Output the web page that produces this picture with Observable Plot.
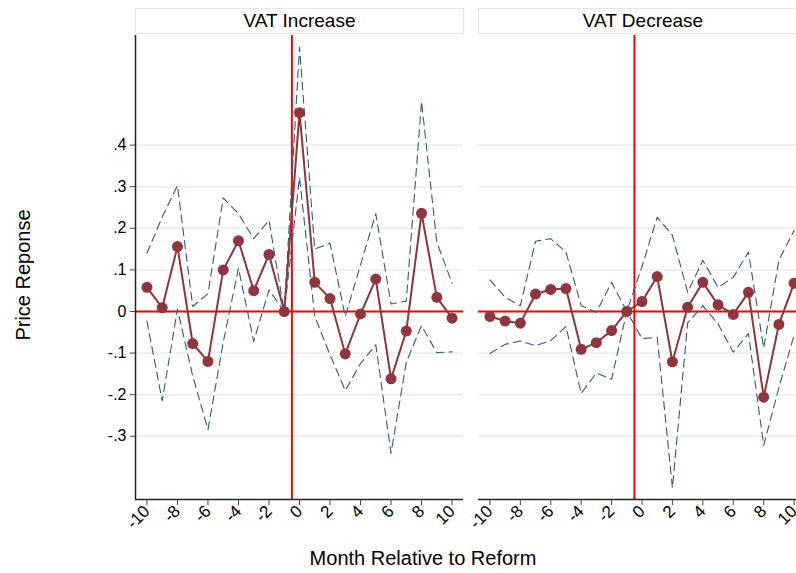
<!DOCTYPE html>
<html>
<head>
<meta charset="utf-8">
<script src="https://cdn.jsdelivr.net/npm/d3@7"></script>
<script src="https://cdn.jsdelivr.net/npm/@observablehq/plot@0.6"></script>
<style>
  html, body { margin: 0; padding: 0; background: #fff; overflow: hidden; width: 796px; height: 573px; }
  body { position: relative; font-family: "Liberation Sans", Arial, Helvetica, sans-serif; }
  .panel { position: absolute; top: 0; }
  .panel svg { max-width: none !important; }
  .strip { position: absolute; top: 8px; height: 26px; box-sizing: border-box; border: 1px solid #dfe9ec; background: #fff;
           font-size: 19px; line-height: 24px; text-align: center; color: #000; }
  .ytitle { position: absolute; left: 23px; top: 275px; transform: translate(-50%, -50%) rotate(-90deg); font-size: 20px; white-space: nowrap; }
  .xtitle { position: absolute; left: 423px; top: 547px; transform: translateX(-50%); font-size: 20px; white-space: nowrap; }
</style>
</head>
<body>
<div id="left" class="panel" style="left:0px; width:470px"></div>
<div id="right" class="panel" style="left:470px; width:340px"></div>
<div class="strip" style="left:135px; width:329px">VAT Increase</div>
<div class="strip" style="left:478px; width:330px">VAT Decrease</div>
<div class="ytitle">Price Reponse</div>
<div class="xtitle">Month Relative to Reform</div>
<script>
// ---- data ----
const months = [-10,-9,-8,-7,-6,-5,-4,-3,-2,-1,0,1,2,3,4,5,6,7,8,9,10];
const panelTitles = ["VAT Increase", "VAT Decrease"];

const incMain  = [0.058,0.009,0.156,-0.077,-0.120,0.100,0.170,0.050,0.137,0,0.478,0.070,0.031,-0.102,-0.006,0.078,-0.162,-0.047,0.236,0.034,-0.016];
const incUpper = [0.140,0.227,0.303,0.012,0.043,0.273,0.235,0.175,0.219,0,0.635,0.150,0.164,-0.012,0.112,0.235,0.018,0.025,0.505,0.167,0.068];
const incLower = [-0.023,-0.215,0.006,-0.155,-0.284,-0.074,0.104,-0.072,0.052,0,0.322,-0.012,-0.104,-0.190,-0.125,-0.080,-0.341,-0.122,-0.034,-0.099,-0.097];

const decMain  = [-0.012,-0.023,-0.028,0.042,0.053,0.055,-0.091,-0.075,-0.046,0,0.024,0.084,-0.121,0.010,0.070,0.016,-0.007,0.046,-0.206,-0.031,0.068];
const decUpper = [0.076,0.034,0.014,0.169,0.175,0.143,0.014,-0.002,0.070,0,0.108,0.227,0.183,0.046,0.123,0.058,0.082,0.143,-0.088,0.123,0.195];
const decLower = [-0.101,-0.079,-0.071,-0.082,-0.070,-0.036,-0.197,-0.148,-0.163,0,-0.065,-0.062,-0.424,-0.028,0.014,-0.030,-0.098,-0.053,-0.322,-0.183,-0.057];

const xTicks = [-10,-8,-6,-4,-2,0,2,4,6,8,10];
const yTicks = [-0.3,-0.2,-0.1,0,0.1,0.2,0.3,0.4];
const reformLine = -0.5;
const zeroLine = 0;

// ---- style ----
const MAIN = "#90353b";
const CI = "#33597a";
const xDomain = [-10.75, 10.75];
const yDomain = [-0.452, 0.6635];
const fmtY = d => d === 0 ? "0" : (d < 0 ? "-" : "") + Math.abs(d).toFixed(1).replace(/^0/, "");
const fmtX = d => String(d);

function makePanel(main, upper, lower, opts) {
  const rows = months.map((m, i) => ({m, main: main[i], upper: upper[i], lower: lower[i]}));
  const marks = [
    Plot.gridY(yTicks, {stroke: "#e4edf0", strokeOpacity: 1, strokeWidth: 1.5}),
    Plot.ruleY([zeroLine], {stroke: "#ff0000", strokeWidth: 2}),
    Plot.ruleX([reformLine], {stroke: "#ff0000", strokeWidth: 2}),
    Plot.line(rows, {x: "m", y: "upper", stroke: CI, strokeWidth: 1.1, strokeDasharray: "8,5"}),
    Plot.line(rows, {x: "m", y: "lower", stroke: CI, strokeWidth: 1.1, strokeDasharray: "8,5"}),
    Plot.line(rows, {x: "m", y: "main", stroke: MAIN, strokeWidth: 2}),
    Plot.dot(rows, {x: "m", y: "main", r: 5.5, fill: MAIN, stroke: "none"}),
    Plot.ruleY([yDomain[0]], {stroke: "#222", strokeWidth: 1.5}),
    Plot.axisX(xTicks, {tickRotate: -45, tickSize: 6, tickPadding: 3, fontSize: 17, fill: "#000", stroke: "#444", textAnchor: "end", tickFormat: fmtX}),
  ];
  if (opts.showY) {
    marks.push(Plot.ruleX([xDomain[0]], {stroke: "#222", strokeWidth: 1.5}));
    marks.push(Plot.axisY(yTicks, {tickSize: 5, tickPadding: 4, fontSize: 16, fill: "#000", stroke: "#444", tickFormat: fmtY}));
  } else {
    marks.push(Plot.axisY([], {}));
  }
  return Plot.plot({
    width: opts.width,
    height: 573,
    marginLeft: opts.ml,
    marginRight: opts.mr,
    marginTop: 35,
    marginBottom: 74,
    x: {domain: xDomain, label: null},
    y: {domain: yDomain, label: null},
    style: {fontFamily: "'Liberation Sans', Arial, Helvetica, sans-serif", background: "transparent", overflow: "visible", maxWidth: "none"},
    marks
  });
}

document.getElementById("left").append(makePanel(incMain, incUpper, incLower, {width: 470, ml: 135, mr: 7, showY: true}));
document.getElementById("right").append(makePanel(decMain, decUpper, decLower, {width: 340, ml: 8, mr: 5, showY: false}));
</script>
</body>
</html>
